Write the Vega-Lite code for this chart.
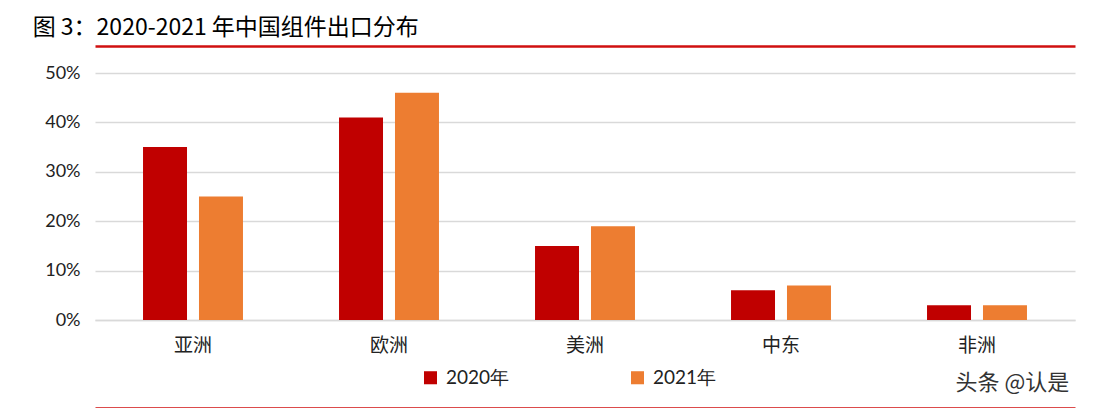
{
  "$schema": "https://vega.github.io/schema/vega-lite/v6.json",
  "width": 980,
  "height": 247,
  "padding": {"left": 32, "top": 17, "right": 5, "bottom": 0},
  "background": "white",
  "title": {
    "text": "图 3：2020-2021 年中国组件出口分布",
    "anchor": "start",
    "frame": "bounds",
    "font": "Noto Sans CJK SC",
    "fontSize": 23,
    "fontWeight": "normal",
    "color": "#000000",
    "dx": -12,
    "offset": 6
  },
  "config": {
    "view": {"stroke": null},
    "font": "Noto Sans CJK SC",
    "axisBottom": {"domainColor": "#D01010", "domainWidth": 2.5}
  },
  "data": {
    "values": [
      {"region": "亚洲", "year": "2020年", "value": 0.35},
      {"region": "亚洲", "year": "2021年", "value": 0.25},
      {"region": "欧洲", "year": "2020年", "value": 0.41},
      {"region": "欧洲", "year": "2021年", "value": 0.46},
      {"region": "美洲", "year": "2020年", "value": 0.15},
      {"region": "美洲", "year": "2021年", "value": 0.19},
      {"region": "中东", "year": "2020年", "value": 0.06},
      {"region": "中东", "year": "2021年", "value": 0.07},
      {"region": "非洲", "year": "2020年", "value": 0.03},
      {"region": "非洲", "year": "2021年", "value": 0.03}
    ]
  },
  "layer": [
    {
      "mark": {"type": "bar"},
      "encoding": {
        "x": {
          "field": "region",
          "type": "nominal",
          "sort": ["亚洲", "欧洲", "美洲", "中东", "非洲"],
          "scale": {"paddingInner": 0.49, "paddingOuter": 0.245},
          "axis": {
            "orient": "bottom",
            "title": null,
            "labelAngle": 0,
            "ticks": false,
            "domainColor": "#d9d9d9",
            "domainWidth": 1.5,
            "labelFontSize": 19,
            "labelColor": "#222222",
            "labelPadding": 16
          }
        },
        "xOffset": {
          "field": "year",
          "type": "nominal",
          "scale": {"paddingInner": 0.214, "paddingOuter": 0}
        },
        "y": {
          "field": "value",
          "type": "quantitative",
          "scale": {"domain": [0, 0.5], "nice": false},
          "axis": {
            "title": null,
            "values": [0, 0.1, 0.2, 0.3, 0.4, 0.5],
            "format": ".0%",
            "domain": false,
            "ticks": false,
            "gridColor": "#d9d9d9",
            "gridWidth": 1.5,
            "labelFont": "Lato",
            "labelFontSize": 18,
            "labelColor": "#222222",
            "labelPadding": 15
          }
        },
        "color": {
          "field": "year",
          "type": "nominal",
          "scale": {"range": ["#C00000", "#ED7D31"]},
          "legend": {
            "title": null,
            "orient": "none",
            "direction": "horizontal",
            "legendX": 326,
            "legendY": 295,
            "symbolType": "square",
            "symbolSize": 170,
            "symbolStrokeWidth": 0,
            "labelFontSize": 19,
            "labelFont": "Lato",
            "labelColor": "#222222",
            "labelOffset": 6,
            "columnPadding": 118
          }
        }
      }
    },
    {
      "mark": {"type": "tick", "opacity": 0},
      "encoding": {
        "x": {
          "field": "region",
          "type": "nominal",
          "sort": ["亚洲", "欧洲", "美洲", "中东", "非洲"],
          "axis": {
            "orient": "top",
            "offset": 27,
            "title": null,
            "labels": false,
            "ticks": false,
            "domainColor": "#D01010",
            "domainWidth": 2.5
          }
        },
        "y": {"field": "value", "type": "quantitative"}
      }
    },
    {
      "mark": {"type": "tick", "opacity": 0},
      "encoding": {
        "x": {
          "field": "region",
          "type": "nominal",
          "sort": ["亚洲", "欧洲", "美洲", "中东", "非洲"],
          "axis": {
            "orient": "bottom",
            "offset": 88,
            "title": "头条 @认是",
            "titleFont": "Noto Sans CJK SC",
            "titleFontSize": 22,
            "titleFontWeight": "normal",
            "titleColor": "#333333",
            "titleX": 860,
            "titleY": -19,
            "titleAlign": "left",
            "titleBaseline": "alphabetic",
            "labels": false,
            "ticks": false,
            "domainColor": "#D01010",
            "domainWidth": 2.5
          }
        },
        "y": {"field": "value", "type": "quantitative"}
      }
    }
  ],
  "resolve": {"axis": {"x": "independent"}}
}
